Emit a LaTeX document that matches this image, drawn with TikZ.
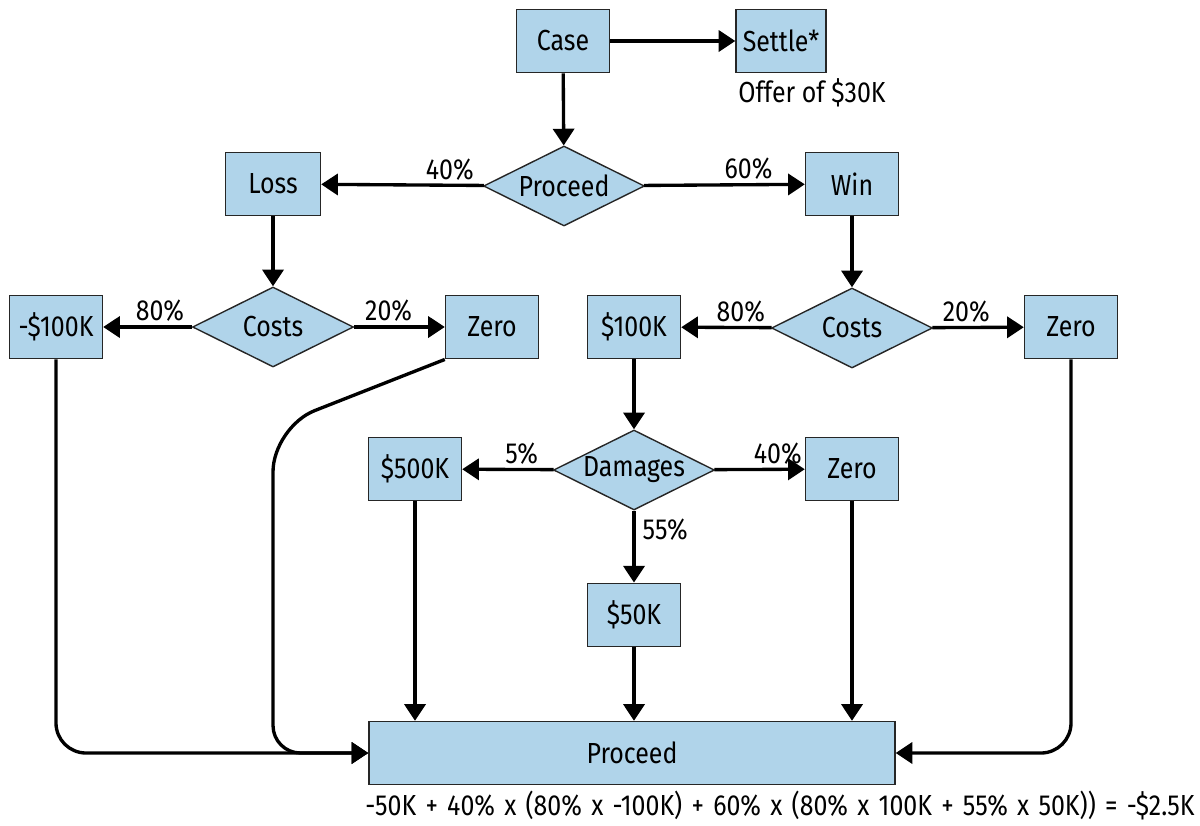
\documentclass[tikz,border=0pt]{standalone}
\usepackage{fontspec}
\setmainfont[FakeStretch=0.86]{Fira Sans}
\usetikzlibrary{arrows.meta,shapes.geometric}
\definecolor{boxblue}{RGB}{176,212,234}
\begin{document}
\begin{tikzpicture}[x=0.02cm,y=-0.02cm,
  font=\fontsize{16.5}{19}\selectfont,
  box/.style={draw=black!85,line width=0.8pt,fill=boxblue,minimum width=1.86cm,minimum height=1.27cm,inner sep=1pt},
  dia/.style={draw=black!85,line width=0.8pt,fill=boxblue,diamond,shape aspect=2,inner sep=0pt,minimum width=3.22cm,minimum height=1.6cm},
  arr/.style={line width=1.9pt,-{Triangle[length=9.5pt,width=12pt]}},
  lab/.style={above,inner sep=2pt}]
\useasboundingbox (0,0) rectangle (1200,825);
\node[box] (case) at (563,41) {Case};
\node[box,minimum width=1.8cm] (settle) at (781,41) {Settle*};
\node (offer) at (812,93) {Offer of \$30K};
\node[dia] (p1) at (564,186) {Proceed};
\node[box,minimum width=1.9cm] (loss) at (273,184) {Loss};
\node[box] (win) at (852,184) {Win};
\node[dia] (cl) at (273,327) {Costs};
\node[box] (m100) at (56,327) {-\$100K};
\node[box] (zl) at (492,327) {Zero};
\node[dia] (cr) at (852,328) {Costs};
\node[box] (p100) at (634,327) {\$100K};
\node[box] (zr) at (1071,327) {Zero};
\node[dia] (dam) at (634,470) {Damages};
\node[box] (p500) at (415,469) {\$500K};
\node[box] (zm) at (852,469) {Zero};
\node[box] (p50) at (634,615) {\$50K};
\node[box,minimum width=10.52cm,minimum height=1.26cm] (pb) at (632,753) {Proceed};
\node[anchor=east,inner sep=0pt] (formula) at (1195,805) {\spaceskip=0.32em\relax -50K + 40\% x (80\% x -100K) + 60\% x (80\% x 100K + 55\% x 50K)) = -\$2.5K};

\draw[arr] (case) -- (settle);
\draw[arr] (case) -- (p1);
\draw[arr] (p1) -- node[lab,pos=0.21] {40\%} (loss);
\draw[arr] (p1) -- node[lab,pos=0.65] {60\%} (win);
\draw[arr] (loss) -- (cl);
\draw[arr] (win) -- (cr);
\draw[arr] (cl) -- node[lab,pos=0.36] {80\%} (m100);
\draw[arr] (cl) -- node[lab,pos=0.38] {20\%} (zl);
\draw[arr] (cr) -- node[lab,pos=0.34] {80\%} (p100);
\draw[arr] (cr) -- node[lab,pos=0.37] {20\%} (zr);
\draw[arr] (p100) -- (dam);
\draw[arr] (dam) -- node[lab,pos=0.35] {5\%} (p500);
\draw[arr] (dam) -- node[lab,pos=0.7] {40\%} (zm);
\draw[arr] (dam) -- node[right,pos=0.27,inner sep=4pt] {55\%} (p50);
\draw[arr] (p500) -- (p500 |- pb.north);
\draw[arr] (p50) -- (p50 |- pb.north);
\draw[arr] (zm) -- (zm |- pb.north);
\draw[arr,rounded corners=0.6cm] (m100.south) |- (pb.west);
\draw[arr,rounded corners=0.6cm] (zr.south) |- (pb.east);
\draw[arr] (zl.south west) [rounded corners=0.9cm] -- (273,427) [rounded corners=0.55cm] -- (273,753) -- (pb.west);
\end{tikzpicture}
\end{document}
